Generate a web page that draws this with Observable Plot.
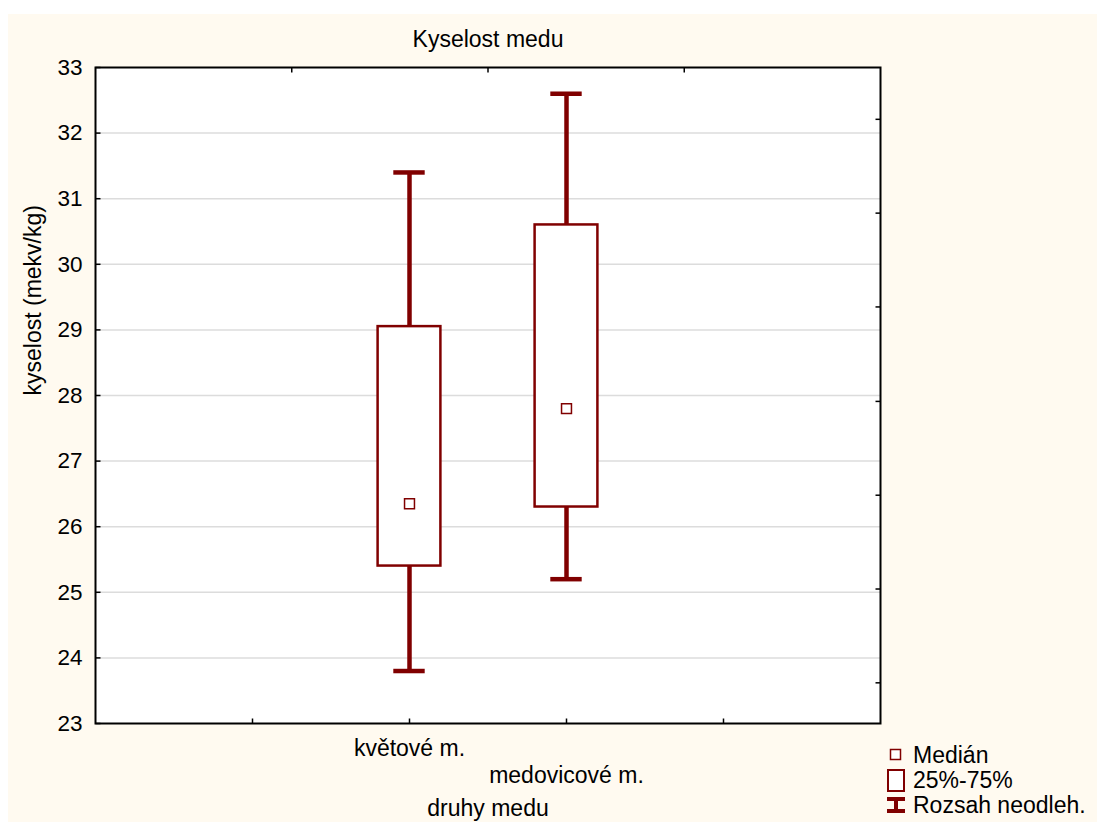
<!DOCTYPE html>
<html>
<head>
<meta charset="utf-8">
<script src="https://cdn.jsdelivr.net/npm/d3@7"></script>
<script src="https://cdn.jsdelivr.net/npm/@observablehq/plot@0.6"></script>
<style>
  html, body { margin: 0; padding: 0; background: #ffffff; overflow: hidden; width: 1097px; height: 822px; }
  #bg { position: absolute; left: 8px; top: 14px; width: 1089px; height: 808px; background: #fffaf0; }
  #chart { position: absolute; left: 0; top: 0; }
  #legend { position: absolute; left: 0; top: 0; }
</style>
</head>
<body>
<div id="bg"></div>
<div id="chart"></div>
<svg id="legend" width="1097" height="822" style="pointer-events:none"></svg>
<script>
// ---- data ----
const chartTitle = "Kyselost medu";
const yLabel = "kyselost (mekv/kg)";
const xLabel = "druhy medu";
const categories = ["květové m.", "medovicové m."];
const minVals = [23.8, 25.2];
const q1Vals = [25.4, 26.3];
const medianVals = [26.35, 27.8];
const q3Vals = [29.05, 30.6];
const maxVals = [31.4, 32.6];
const yTicks = [23, 24, 25, 26, 27, 28, 29, 30, 31, 32, 33];
const gridVals = [24, 25, 26, 27, 28, 29, 30, 31, 32];
const rightTicks = [23.62, 25.05, 26.48, 27.91, 29.35, 30.78, 32.21];
const bottomTicks = [1, 2, 3, 4];
const topTicks = [1.25, 2.5, 3.75];
const legendLabels = ["Medián", "25%-75%", "Rozsah neodleh."];

const data = categories.map((c, i) => ({
  cat: c, pos: i + 2,
  min: minVals[i], q1: q1Vals[i], median: medianVals[i], q3: q3Vals[i], max: maxVals[i]
}));

const RED = "#800000";
const FONT = "'Liberation Sans', Arial, Helvetica, sans-serif";
const FS = 23;
const TFS = 22.5;
const TL = 5; // tick length in px

const tickSym = (dx, dy) => ({ draw(ctx) { ctx.moveTo(0, 0); ctx.lineTo(dx, dy); } });
const tickRightSym = tickSym(TL, 0);
const tickLeftSym = tickSym(-TL, 0);
const tickUpSym = tickSym(0, -TL);
const tickDownSym = tickSym(0, TL);

const X0 = 0, X1 = 5, Y0 = 23, Y1 = 33;
const txt = { fontSize: FS, fill: "black", lineAnchor: "middle" };

const chart = Plot.plot({
  width: 1097,
  height: 822,
  marginLeft: 95,
  marginRight: 217,
  marginTop: 67,
  marginBottom: 99,
  x: { domain: [X0, X1], axis: null },
  y: { domain: [Y0, Y1], axis: null },
  style: { background: "transparent", fontFamily: FONT, fontSize: FS + "px", color: "black" },
  marks: [
    Plot.frame({ fill: "white" }),
    Plot.ruleY(gridVals, { stroke: "#dcdcdc", strokeWidth: 1.5 }),
    Plot.ruleX(data, { x: "pos", y1: "min", y2: "q1", stroke: RED, strokeWidth: 4.5 }),
    Plot.ruleX(data, { x: "pos", y1: "q3", y2: "max", stroke: RED, strokeWidth: 4.5 }),
    Plot.ruleY(data, { y: "min", x1: d => d.pos - 0.1, x2: d => d.pos + 0.1, stroke: RED, strokeWidth: 4.5 }),
    Plot.ruleY(data, { y: "max", x1: d => d.pos - 0.1, x2: d => d.pos + 0.1, stroke: RED, strokeWidth: 4.5 }),
    Plot.rect(data, { x1: d => d.pos - 0.2, x2: d => d.pos + 0.2, y1: "q1", y2: "q3", fill: "white", stroke: RED, strokeWidth: 2.5 }),
    Plot.dot(data, { x: "pos", y: "median", symbol: "square", r: 5.6, fill: "white", stroke: RED, strokeWidth: 1.5 }),
    Plot.frame({ stroke: "black", strokeWidth: 2 }),
    Plot.dot(yTicks, { x: X0, y: d => d, symbol: tickRightSym, fill: "none", stroke: "black", strokeWidth: 1.5 }),
    Plot.dot(rightTicks, { x: X1, y: d => d, symbol: tickLeftSym, fill: "none", stroke: "black", strokeWidth: 1.5 }),
    Plot.dot(bottomTicks, { x: d => d, y: Y0, symbol: tickUpSym, fill: "none", stroke: "black", strokeWidth: 1.5 }),
    Plot.dot(topTicks, { x: d => d, y: Y1, symbol: tickDownSym, fill: "none", stroke: "black", strokeWidth: 1.5 }),
    Plot.text(yTicks, { x: X0, y: d => d, text: d => String(d), textAnchor: "end", dx: -13, ...txt, fontSize: TFS }),
    Plot.text(data.filter((d, i) => i % 2 === 0), { x: "pos", text: "cat", frameAnchor: "bottom", dy: 25, ...txt }),
    Plot.text(data.filter((d, i) => i % 2 === 1), { x: "pos", text: "cat", frameAnchor: "bottom", dy: 52, ...txt }),
    Plot.text([xLabel], { text: d => d, frameAnchor: "bottom", dy: 85, ...txt }),
    Plot.text([chartTitle], { text: d => d, frameAnchor: "top", dy: -28, ...txt }),
    Plot.text([yLabel], { text: d => d, frameAnchor: "left", rotate: -90, dx: -62, ...txt })
  ]
});
document.getElementById("chart").appendChild(chart);

// ---- legend (bottom right) ----
const lg = d3.select("#legend");
const lx = 887, ly0 = 741, lh = 25;
lg.append("rect").attr("x", lx + 3.5).attr("y", ly0 + 8.5).attr("width", 10).attr("height", 10)
  .attr("fill", "white").attr("stroke", RED).attr("stroke-width", 1.5);
lg.append("rect").attr("x", lx + 1).attr("y", ly0 + 29).attr("width", 16).attr("height", 21)
  .attr("fill", "white").attr("stroke", RED).attr("stroke-width", 2);
lg.append("path").attr("d", `M${lx},${ly0 + 58} H${lx + 18} M${lx + 9},${ly0 + 58} V${ly0 + 70} M${lx},${ly0 + 70} H${lx + 18}`)
  .attr("fill", "none").attr("stroke", RED).attr("stroke-width", 4);
legendLabels.forEach((t, i) => {
  lg.append("text").attr("x", lx + 26).attr("y", ly0 + 22 + i * lh)
    .attr("font-family", FONT).attr("font-size", FS).attr("fill", "black").text(t);
});
</script>
</body>
</html>
